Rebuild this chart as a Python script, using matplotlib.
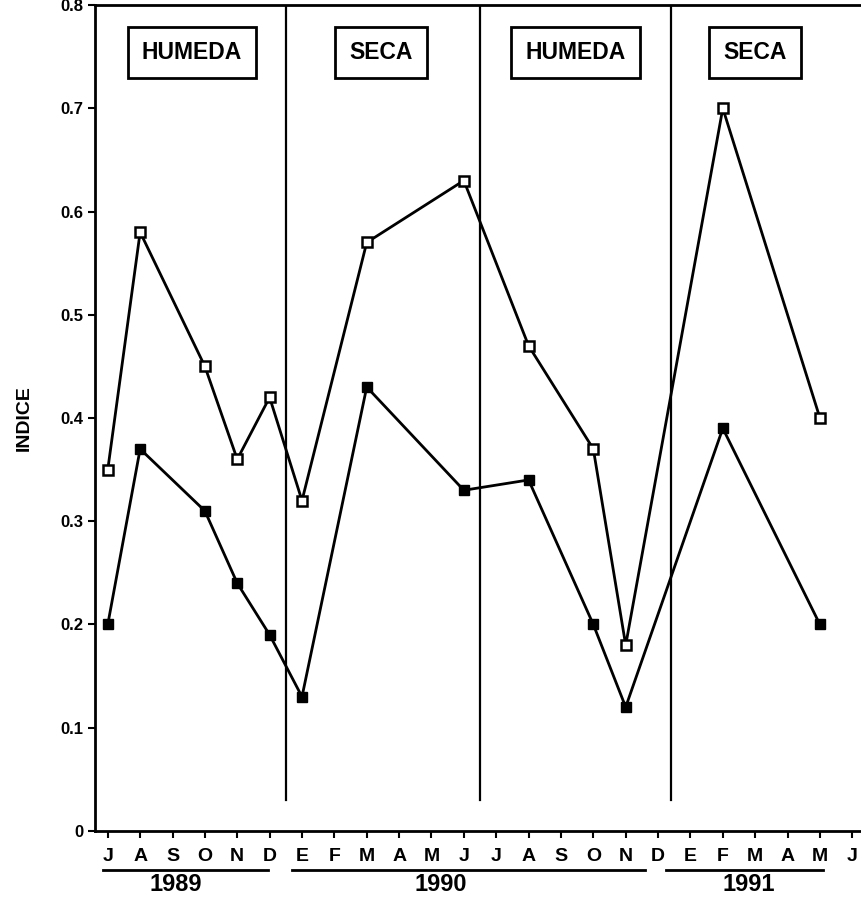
import numpy as np
import matplotlib
matplotlib.use('Agg')
import matplotlib.pyplot as plt

plt.rcParams['font.family'] = ['Liberation Sans', 'DejaVu Sans']
plt.rcParams['font.weight'] = 'bold'

# meses de julio 1989 a junio 1991
meses = ['J', 'A', 'S', 'O', 'N', 'D', 'E', 'F', 'M', 'A', 'M', 'J',
         'J', 'A', 'S', 'O', 'N', 'D', 'E', 'F', 'M', 'A', 'M', 'J']
# posiciones (indice de mes) de los muestreos
idx_muestreo = [0, 1, 3, 4, 5, 6, 8, 11, 13, 15, 16, 19, 22]
indice_sup = [0.35, 0.58, 0.45, 0.36, 0.42, 0.32, 0.57, 0.63, 0.47, 0.37, 0.18, 0.70, 0.40]
indice_inf = [0.20, 0.37, 0.31, 0.24, 0.19, 0.13, 0.43, 0.33, 0.34, 0.20, 0.12, 0.39, 0.20]

estaciones = ['HUMEDA', 'SECA', 'HUMEDA', 'SECA']
centro_estacion = [2.6, 8.45, 14.45, 20.0]
cortes = [5.5, 11.5, 17.4]

anios = ['1989', '1990', '1991']
anio_inicio = [-0.15, 5.7, 17.25]
anio_fin = [4.95, 16.6, 22.1]
anio_centro = [2.1, 10.3, 19.8]

fig = plt.figure(figsize=(8.62, 8.97), dpi=100)
ax = fig.add_axes([0.110, 0.0736, 0.890, 0.9208])

ax.plot(idx_muestreo, indice_sup, color='black', lw=2, marker='s', ms=6.5,
        mfc='white', mec='black', mew=1.8, zorder=3)
ax.plot(idx_muestreo, indice_inf, color='black', lw=2, marker='s', ms=7,
        mfc='black', mec='black', zorder=3)

# separacion de estaciones
for c in cortes:
    ax.plot([c, c], [0.03, 0.8], color='black', lw=1.6, zorder=2)

for txt, xc in zip(estaciones, centro_estacion):
    ax.text(xc, 0.754, txt, ha='center', va='center', fontsize=16.5,
            fontweight='bold',
            bbox=dict(boxstyle='square,pad=0.62', fc='white', ec='black', lw=2))

ax.set_xlim(-0.4, 23.3)
ax.set_ylim(0, 0.8)
ax.set_xticks(np.arange(len(meses)))
ax.set_xticklabels(meses, fontsize=14, fontweight='bold')
ax.set_yticks(np.arange(0, 0.81, 0.1))
ax.set_yticklabels(['0', '0.1', '0.2', '0.3', '0.4', '0.5', '0.6', '0.7', '0.8'],
                   fontsize=12, fontweight='bold')
ax.tick_params(axis='x', length=5, width=1.5, pad=7)
ax.tick_params(axis='y', length=5, width=1.5, pad=3)
ax.set_ylabel('INDICE', fontsize=14, fontweight='bold', labelpad=20)

for s in ['left', 'bottom', 'top']:
    ax.spines[s].set_linewidth(2)
ax.spines['right'].set_visible(False)

# años bajo el eje
for a, x0, x1, xc in zip(anios, anio_inicio, anio_fin, anio_centro):
    ax.plot([x0, x1], [-0.0375, -0.0375], color='black', lw=2, clip_on=False)
    ax.text(xc, -0.052, a, ha='center', va='center', fontsize=17,
            fontweight='bold')

fig.savefig('out.png', dpi=100)
